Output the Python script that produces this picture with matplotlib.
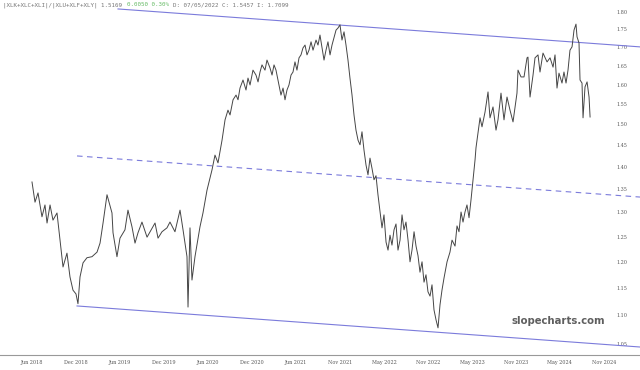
import numpy as np
import matplotlib.pyplot as plt
from matplotlib.ticker import FixedLocator, FixedFormatter, NullLocator

# time axis in months since Jan 2018, ratio value
t = [5.00, 5.41, 5.82, 6.36, 6.77, 7.05, 7.46, 7.86, 8.41, 8.82, 9.23, 9.77, 10.18, 10.59, 11.00, 11.27,
     11.55, 11.96, 12.50, 13.18, 13.87, 14.28, 14.69, 15.23, 15.91, 16.05, 16.59, 17.00, 17.68, 18.09,
     18.64, 19.05, 19.46, 20.00, 20.69, 21.10, 21.78, 22.19, 22.73, 23.41, 23.82, 24.50, 25.19, 25.60,
     26.14, 26.28, 26.55, 26.82, 27.23, 27.91, 28.32, 28.87, 29.55,
     29.96, 30.37, 30.92, 31.33, 31.73, 32.01, 32.42, 32.83, 33.10, 33.37, 33.78, 34.19, 34.46, 34.74,
     35.14, 35.55, 35.83, 36.10, 36.37, 36.78, 37.05, 37.46, 37.74, 38.01, 38.28, 38.69, 38.96, 39.24,
     39.51, 39.78, 40.05, 40.33, 40.60, 40.87, 41.14, 41.42, 41.69, 41.96, 42.24, 42.51, 42.78, 43.06,
     43.33, 43.74, 44.01, 44.28, 44.56, 44.83, 45.10, 45.37, 45.65, 45.92, 46.19, 46.47, 46.74, 47.01,
     47.28, 47.56, 47.83, 48.10, 48.37, 48.65, 48.92, 49.19, 49.47, 49.74, 50.01, 50.28, 50.56, 50.83,
     51.10, 51.37, 51.65, 51.92, 52.19, 52.47, 52.74, 53.01, 53.29, 53.56, 53.83, 54.10, 54.38, 54.65,
     54.92, 55.20, 55.47, 55.74, 56.01, 56.29, 56.56, 56.83, 57.11, 57.38, 57.65, 57.92, 58.20, 58.47,
     58.74, 59.01, 59.29, 59.56, 59.83, 60.11, 60.38, 60.65, 60.92, 61.20, 61.61, 62.01, 62.29, 62.70,
     62.97, 63.24, 63.52, 63.79, 64.06, 64.33, 64.61, 64.88, 65.15, 65.43,
     65.56, 66.11, 66.38, 66.79, 67.20, 67.47, 67.88, 68.29, 68.56, 68.97, 69.38, 69.79, 70.20, 70.61,
     71.15, 71.29, 71.70, 72.11, 72.52, 72.65, 72.93, 73.34, 73.61, 74.02, 74.29, 74.70, 75.25, 75.66,
     76.07, 76.34, 76.61, 76.88, 77.29, 77.56, 77.84, 78.11, 78.38, 78.66, 78.93, 79.20, 79.34, 79.61,
     79.75, 80.02, 80.16, 80.43, 80.71, 80.98, 81.12]
ratio = [1.366, 1.322, 1.342, 1.291, 1.316, 1.278, 1.316, 1.284, 1.299, 1.243, 1.190, 1.217, 1.171, 1.146,
         1.139, 1.121, 1.171, 1.198, 1.208, 1.210, 1.219, 1.237, 1.278, 1.338, 1.299, 1.258, 1.210, 1.247,
         1.264, 1.305, 1.270, 1.237, 1.258, 1.280, 1.249, 1.260, 1.278, 1.247, 1.260, 1.268, 1.280, 1.260,
         1.305, 1.264, 1.210, 1.115, 1.268, 1.165, 1.210, 1.270, 1.299, 1.348, 1.393,
         1.427, 1.409, 1.462, 1.511, 1.535, 1.523, 1.561, 1.573, 1.561, 1.591, 1.612, 1.586, 1.617, 1.599,
         1.638, 1.625, 1.607, 1.633, 1.652, 1.638, 1.665, 1.644, 1.625, 1.652, 1.638, 1.599, 1.573, 1.591,
         1.561, 1.586, 1.599, 1.625, 1.633, 1.660, 1.638, 1.671, 1.679, 1.698, 1.706, 1.679, 1.692, 1.715,
         1.692, 1.720, 1.706, 1.734, 1.698, 1.665, 1.692, 1.715, 1.679, 1.706, 1.726, 1.748, 1.754, 1.763,
         1.720, 1.743, 1.706, 1.665, 1.617, 1.573, 1.523, 1.486, 1.462, 1.451, 1.482, 1.439, 1.404, 1.382,
         1.420, 1.397, 1.371, 1.380, 1.338, 1.301, 1.268, 1.295, 1.239, 1.223, 1.253, 1.233, 1.264, 1.276,
         1.223, 1.243, 1.295, 1.264, 1.280, 1.243, 1.200, 1.223, 1.260, 1.231, 1.212, 1.180, 1.200, 1.161,
         1.175, 1.143, 1.135, 1.156, 1.110, 1.092, 1.078, 1.119, 1.146, 1.169, 1.200, 1.219, 1.243, 1.231,
         1.272, 1.260, 1.301, 1.280, 1.301, 1.316, 1.289, 1.327, 1.371, 1.416,
         1.444, 1.516, 1.494, 1.530, 1.581, 1.516, 1.543, 1.486, 1.511, 1.578, 1.511, 1.568, 1.535, 1.506,
         1.578, 1.638, 1.620, 1.620, 1.671, 1.673, 1.568, 1.625, 1.671, 1.679, 1.633, 1.684, 1.660, 1.671,
         1.646, 1.679, 1.591, 1.630, 1.604, 1.633, 1.604, 1.638, 1.692, 1.701, 1.748, 1.765, 1.729, 1.712,
         1.612, 1.604, 1.516, 1.594, 1.607, 1.568, 1.518]

# channel anchors (start, end)
chan_t = [11.14, 87.93]
upper_t = [16.73, 87.93]
upper_v = [1.809, 1.701]
mid_v = [1.425, 1.333]
lower_v = [1.117, 1.045]

xtick_pos = [5, 11, 17, 23, 29, 35, 41, 47, 53, 59, 65, 71, 77, 83]
xtick_lab = ["Jun 2018", "Dec 2018", "Jun 2019", "Dec 2019", "Jun 2020", "Dec 2020", "Jun 2021",
             "Nov 2021", "May 2022", "Nov 2022", "May 2023", "Nov 2023", "May 2024", "Nov 2024"]
ytick_vals = [1.05, 1.10, 1.15, 1.20, 1.25, 1.30, 1.35, 1.40, 1.45, 1.50, 1.55, 1.60, 1.65, 1.70, 1.75, 1.80]

fig = plt.figure(figsize=(6.4, 3.7), dpi=100)
ax = fig.add_axes([0, 0.0405, 1, 0.9595])

chan = "#7b7bdb"
ax.plot(upper_t, upper_v, color=chan, lw=0.8)
ax.plot(chan_t, mid_v, color=chan, lw=0.8, ls=(0, (5, 4)))
ax.plot(chan_t, lower_v, color=chan, lw=0.8)
ax.plot(t, ratio, color="#454545", lw=0.7)

ax.set_yscale("log")
ax.set_ylim(1.0315, 1.8355)
ax.set_xlim(0.635, 87.93)
ax.yaxis.set_major_locator(FixedLocator(ytick_vals))
ax.yaxis.set_major_formatter(FixedFormatter(["%.2f" % v for v in ytick_vals]))
ax.yaxis.set_minor_locator(NullLocator())
ax.tick_params(axis="y", left=False, right=False, labelleft=False, labelright=True,
               pad=-20.5, labelsize=3.5, labelcolor="#555555")
ax.set_xticks(xtick_pos)
ax.set_xticklabels(xtick_lab)
ax.tick_params(axis="x", length=0, pad=3.5, labelsize=3.5, labelcolor="#555555")
for lab in ax.get_xticklabels() + ax.get_yticklabels():
    lab.set_family("DejaVu Serif")

for s in ["top", "left", "right"]:
    ax.spines[s].set_visible(False)
ax.spines["bottom"].set_color("#999999")
ax.spines["bottom"].set_linewidth(0.8)

ax.text(0.873, 0.095, "slopecharts.com", transform=ax.transAxes, ha="center", va="center",
        fontsize=7.3, fontweight="bold", color="#5f5f5f")

hdr = dict(fontsize=4.2, family="DejaVu Sans Mono", va="center")
fig.text(3 / 640, 1 - 5 / 370, "|XLK+XLC+XLI|/|XLU+XLF+XLY| 1.5169", color="#777777", **hdr)
fig.text(127 / 640, 1 - 5 / 370, "0.0050 0.30%", color="#66bb66", **hdr)
fig.text(173 / 640, 1 - 5 / 370, "D: 07/05/2022 C: 1.5457 I: 1.7099", color="#777777", **hdr)

plt.savefig("out.png", dpi=100)
